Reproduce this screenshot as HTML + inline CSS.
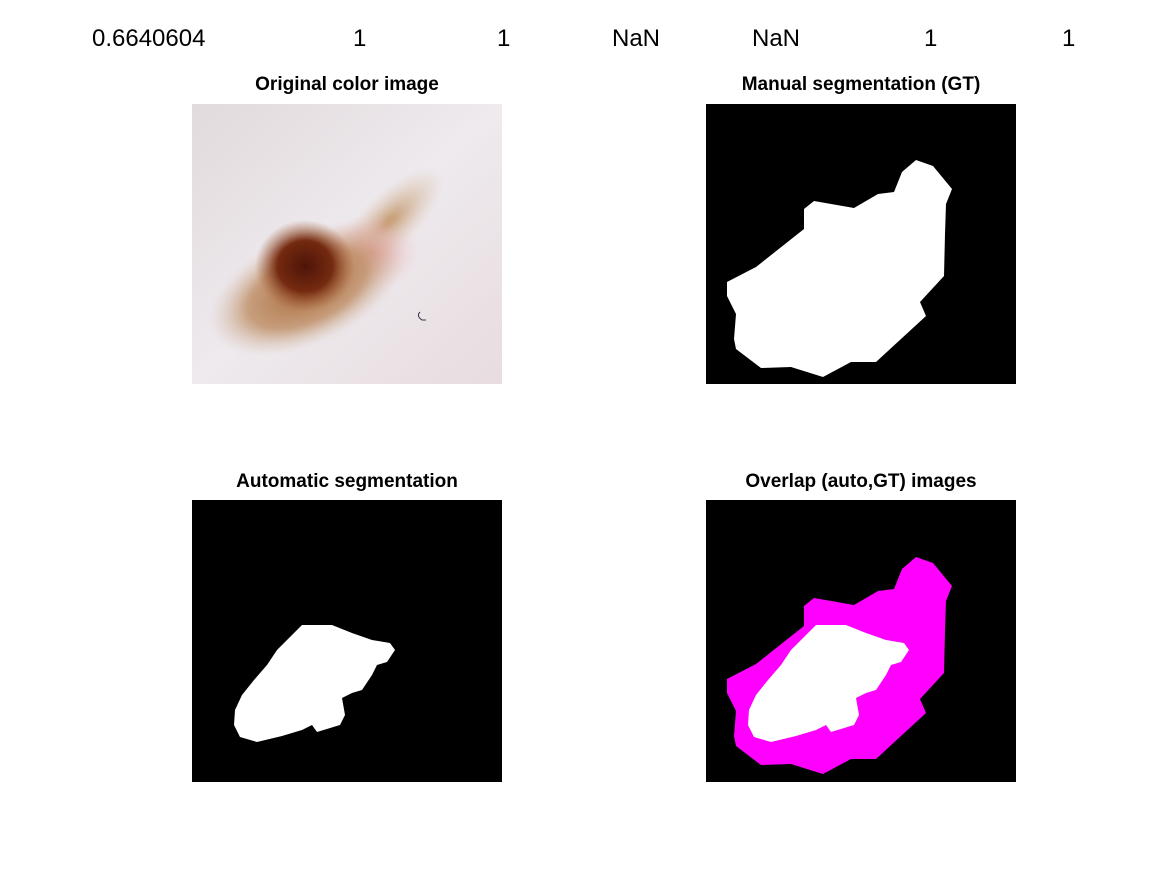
<!DOCTYPE html>
<html><head><meta charset="utf-8"><style>
body{margin:0;background:#fff;width:1167px;height:875px;overflow:hidden;font-family:"Liberation Sans",Arial,sans-serif}
svg{position:absolute;left:0;top:0}
</style></head><body>
<svg width="1167" height="875">
<defs>
<linearGradient id="skin" x1="0" y1="0" x2="1" y2="1"><stop offset="0" stop-color="#e2dadc"/><stop offset="0.5" stop-color="#eeeaee"/><stop offset="1" stop-color="#e8dcdf"/></linearGradient>
<radialGradient id="core"><stop offset="0" stop-color="#4e1408"/><stop offset="0.55" stop-color="#742a10"/><stop offset="1" stop-color="#a5603a" stop-opacity="0"/></radialGradient>
<radialGradient id="halo"><stop offset="0" stop-color="#a86a3a"/><stop offset="0.6" stop-color="#c09068" stop-opacity="0.85"/><stop offset="1" stop-color="#d8c0b0" stop-opacity="0"/></radialGradient>
<radialGradient id="pink"><stop offset="0" stop-color="#e8a0a0"/><stop offset="1" stop-color="#e8c8cc" stop-opacity="0"/></radialGradient>
<radialGradient id="tan"><stop offset="0" stop-color="#c09060"/><stop offset="1" stop-color="#d8c0a8" stop-opacity="0"/></radialGradient>
<filter id="bl"><feGaussianBlur stdDeviation="2"/></filter>
</defs>
<g font-size="24" fill="#000">
<text x="92" y="46">0.6640604</text>
<text x="353" y="46">1</text>
<text x="497" y="46">1</text>
<text x="612" y="46">NaN</text>
<text x="752" y="46">NaN</text>
<text x="924" y="46">1</text>
<text x="1062" y="46">1</text>
</g>
<g font-size="19" font-weight="bold" text-anchor="middle">
<text x="347" y="90">Original color image</text>
<text x="861" y="90">Manual segmentation (GT)</text>
<text x="347" y="487">Automatic segmentation</text>
<text x="861" y="487">Overlap (auto,GT) images</text>
</g>
<g transform="translate(192,104)">
<rect width="310" height="280" fill="url(#skin)"/>
<ellipse cx="195" cy="120" rx="75" ry="28" transform="rotate(-45 195 120)" fill="url(#tan)" filter="url(#bl)"/>
<ellipse cx="178" cy="148" rx="50" ry="38" fill="url(#pink)"/>
<ellipse cx="115" cy="185" rx="105" ry="55" transform="rotate(-25 115 185)" fill="url(#halo)" filter="url(#bl)"/>
<ellipse cx="113" cy="162" rx="50" ry="46" fill="url(#core)"/>
<path d="M228 208 q-4 4 2 8 l4 0" stroke="#334" fill="none" stroke-width="1"/>
</g>
<g transform="translate(706,104)">
<rect width="310" height="280" fill="#000"/>
<polygon fill="#fff" points="210,56 227,62 246,85 240,100 239,130 238,172 214,198 220,212 170,258 145,258 117,273 85,263 55,264 30,245 28,235 30,210 21,192 21,178 50,163 98,125 98,105 108,97 148,104 172,90 188,88 196,68"/>
</g>
<g transform="translate(192,500)">
<rect width="310" height="282" fill="#000"/>
<polygon fill="#fff" points="110,125 140,125 160,133 180,140 198,143 203,150 195,162 185,165 180,175 170,190 160,193 150,198 153,215 148,225 125,232 120,225 110,230 90,236 65,242 48,237 42,225 43,210 50,195 62,180 75,165 85,150 100,135"/>
</g>
<g transform="translate(706,500)">
<rect width="310" height="282" fill="#000"/>
<polygon fill="#f0f" points="210,57 227,63 246,86 240,101 239,131 238,173 214,199 220,213 170,259 145,259 117,274 85,264 55,265 30,246 28,236 30,211 21,193 21,179 50,164 98,126 98,106 108,98 148,105 172,91 188,89 196,69"/>
<polygon fill="#fff" points="110,125 140,125 160,133 180,140 198,143 203,150 195,162 185,165 180,175 170,190 160,193 150,198 153,215 148,225 125,232 120,225 110,230 90,236 65,242 48,237 42,225 43,210 50,195 62,180 75,165 85,150 100,135"/>
</g>
</svg>
</body></html>
